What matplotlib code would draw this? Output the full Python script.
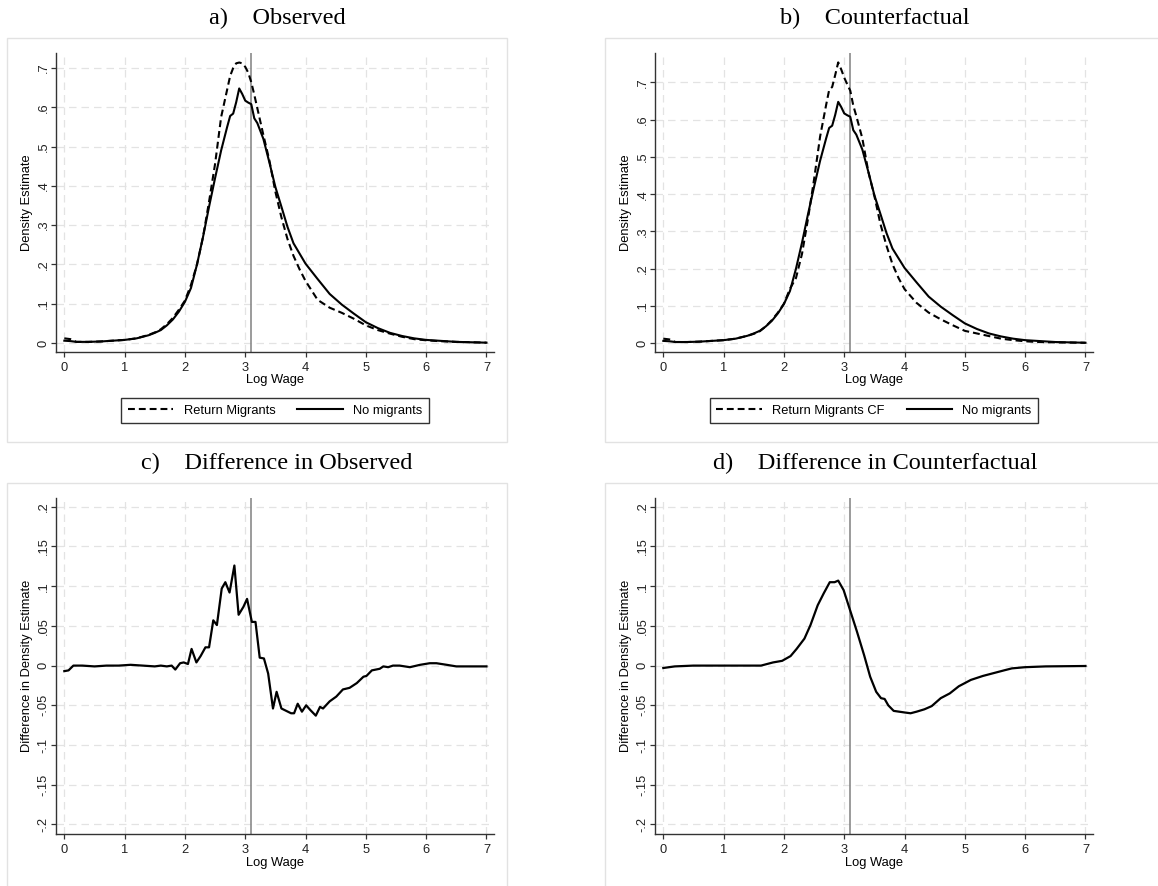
import matplotlib
matplotlib.use("Agg")
import matplotlib.pyplot as plt
from matplotlib.patches import Rectangle
from matplotlib.lines import Line2D

# ---- data ----
log_wage = [0, 0.1, 0.2, 0.4, 0.6, 0.8, 1.0, 1.2, 1.4, 1.5, 1.6, 1.7, 1.8, 1.9, 2.0,
            2.1, 2.2, 2.3, 2.4, 2.5, 2.6, 2.7, 2.75, 2.8, 2.85, 2.9, 2.95, 3.0, 3.05,
            3.1, 3.15, 3.2, 3.3, 3.4, 3.5, 3.6, 3.7, 3.8, 3.9, 4.0, 4.2, 4.4, 4.6,
            4.8, 5.0, 5.2, 5.4, 5.6, 5.8, 6.0, 6.2, 6.5, 7.0]

no_migrants = [0.006, 0.005, 0.003, 0.003, 0.004, 0.006, 0.008, 0.012, 0.020, 0.026,
               0.033, 0.045, 0.060, 0.080, 0.105, 0.140, 0.200, 0.270, 0.347, 0.420,
               0.490, 0.550, 0.578, 0.584, 0.613, 0.648, 0.634, 0.617, 0.612, 0.608,
               0.572, 0.560, 0.520, 0.460, 0.397, 0.347, 0.296, 0.254, 0.228, 0.202,
               0.163, 0.125, 0.098, 0.075, 0.053, 0.038, 0.026, 0.018, 0.012, 0.008,
               0.006, 0.003, 0.001]

return_migrants = [0.012, 0.010, 0.003, 0.003, 0.004, 0.006, 0.008, 0.012, 0.021, 0.027,
                   0.035, 0.048, 0.064, 0.085, 0.108, 0.148, 0.200, 0.270, 0.360, 0.456,
                   0.575, 0.645, 0.680, 0.700, 0.712, 0.714, 0.712, 0.703, 0.688, 0.664,
                   0.632, 0.598, 0.530, 0.465, 0.385, 0.320, 0.265, 0.222, 0.188, 0.158,
                   0.110, 0.090, 0.077, 0.062, 0.045, 0.033, 0.024, 0.016, 0.010, 0.007,
                   0.005, 0.003, 0.001]

return_migrants_cf = [0.012, 0.010, 0.003, 0.003, 0.004, 0.006, 0.008, 0.012, 0.020, 0.025,
                      0.032, 0.045, 0.062, 0.082, 0.106, 0.146, 0.175, 0.240, 0.335, 0.440,
                      0.555, 0.640, 0.680, 0.688, 0.720, 0.754, 0.735, 0.713, 0.695, 0.678,
                      0.638, 0.610, 0.550, 0.460, 0.395, 0.320, 0.262, 0.212, 0.175, 0.145,
                      0.108, 0.082, 0.064, 0.048, 0.033, 0.026, 0.019, 0.012, 0.008, 0.005,
                      0.003, 0.002, 0.001]

diff_obs_x = [0, 0.07, 0.15, 0.3, 0.5, 0.7, 0.9, 1.1, 1.3, 1.5, 1.6, 1.7, 1.78, 1.84, 1.92,
              1.98, 2.05, 2.11, 2.19, 2.26, 2.34, 2.40, 2.47, 2.53, 2.61, 2.67, 2.74, 2.82,
              2.89, 2.97, 3.03, 3.11, 3.17, 3.24, 3.31, 3.38, 3.46, 3.52, 3.60, 3.68, 3.76,
              3.81, 3.87, 3.94, 4.01, 4.08, 4.17, 4.24, 4.29, 4.40, 4.51, 4.62, 4.73, 4.85,
              4.96, 5.01, 5.10, 5.23, 5.29, 5.37, 5.45, 5.56, 5.73, 5.90, 6.06, 6.17, 6.34,
              6.50, 7.0]
diff_obs = [-0.007, -0.006, 0.0, 0.0, -0.001, 0.0, 0.0, 0.001, 0.0, -0.001, 0.0, -0.001,
            0.0, -0.005, 0.003, 0.004, 0.002, 0.021, 0.004, 0.012, 0.023, 0.023, 0.057,
            0.051, 0.097, 0.105, 0.092, 0.126, 0.064, 0.074, 0.084, 0.055, 0.055, 0.010,
            0.009, -0.010, -0.054, -0.033, -0.054, -0.057, -0.060, -0.060, -0.048, -0.058,
            -0.050, -0.056, -0.063, -0.052, -0.054, -0.045, -0.039, -0.030, -0.028, -0.022,
            -0.014, -0.013, -0.006, -0.004, -0.001, -0.002, 0.0, 0.0, -0.002, 0.001, 0.003,
            0.003, 0.001, -0.001, -0.001]

diff_cf_x = [0, 0.19, 0.5, 1.0, 1.3, 1.62, 1.82, 1.97, 2.11, 2.21, 2.34, 2.44, 2.56, 2.66,
             2.76, 2.84, 2.90, 2.99, 3.10, 3.21, 3.33, 3.43, 3.53, 3.61, 3.67, 3.73, 3.82,
             3.91, 4.00, 4.10, 4.20, 4.33, 4.45, 4.60, 4.75, 4.90, 5.10, 5.30, 5.50, 5.65,
             5.78, 6.0, 6.34, 7.0]
diff_cf = [-0.003, -0.001, 0.0, 0.0, 0.0, 0.0, 0.004, 0.006, 0.012, 0.021, 0.034, 0.051,
           0.076, 0.091, 0.105, 0.105, 0.107, 0.095, 0.069, 0.043, 0.013, -0.014, -0.033,
           -0.041, -0.042, -0.050, -0.057, -0.058, -0.059, -0.060, -0.058, -0.055, -0.051,
           -0.041, -0.035, -0.026, -0.018, -0.013, -0.009, -0.006, -0.0035, -0.002, -0.001,
           -0.0005]

density_ticks = [0, 0.1, 0.2, 0.3, 0.4, 0.5, 0.6, 0.7]
density_labels = ['0', '.1', '.2', '.3', '.4', '.5', '.6', '.7']
diff_ticks = [-0.2, -0.15, -0.1, -0.05, 0, 0.05, 0.1, 0.15, 0.2]
diff_labels = ['-.2', '-.15', '-.1', '-.05', '0', '.05', '.1', '.15', '.2']
cutoff = 3.1

W, H = 1158, 886
fig = plt.figure(figsize=(W / 100, H / 100), dpi=100)
plt.rcParams['font.family'] = ['Liberation Sans', 'DejaVu Sans']

FS = 9.3
DASH = (0, (3.3, 1.9))


def px_axes(left, top, right, bottom):
    return fig.add_axes([left / W, 1 - bottom / H, (right - left) / W, (bottom - top) / H])


def frame(left, top, right, bottom):
    fig.add_artist(Rectangle((left / W, 1 - bottom / H), (right - left) / W, (bottom - top) / H,
                             transform=fig.transFigure, facecolor='white',
                             edgecolor='#e2e2e2', lw=1.0, zorder=-5))


def style(ax, ylim, ticks, labels, ylabel):
    ax.set_xlim(-0.138, 7.125)
    ax.set_ylim(*ylim)
    ax.set_xticks(range(8))
    ax.set_yticks(ticks)
    ax.set_yticklabels(labels)
    for lab in ax.get_yticklabels():
        lab.set_rotation(90)
        lab.set_va('center')
    ax.grid(True, color='#e3e3e3', linestyle=(0, (6, 4)), lw=0.9)
    ax.set_axisbelow(True)
    ax.patch.set_alpha(0)
    for s in ['top', 'right']:
        ax.spines[s].set_visible(False)
    for s in ['left', 'bottom']:
        ax.spines[s].set_color('#333333')
        ax.spines[s].set_linewidth(1.0)
    ax.tick_params(direction='out', length=3.6, width=0.9, colors='#333333',
                   labelcolor='#222222', labelsize=FS, pad=1)
    ax.tick_params(axis='x', pad=3.5)
    ax.set_xlabel('Log Wage', fontsize=FS, labelpad=0.5)
    ax.set_ylabel(ylabel, fontsize=FS, labelpad=3)
    ax.axvline(cutoff, color='#808080', lw=1.1, zorder=1)


def legend(ax, dashed_label, cx, cy):
    handles = [Line2D([], [], color='black', lw=1.5, linestyle=DASH),
               Line2D([], [], color='black', lw=1.5)]
    leg = ax.legend(handles, [dashed_label, 'No migrants'], loc='center',
                    bbox_to_anchor=(cx / W, 1 - cy / H), bbox_transform=fig.transFigure,
                    ncol=2, fancybox=False, edgecolor='#333333', framealpha=1,
                    fontsize=FS, handlelength=3.55, columnspacing=1.7,
                    borderpad=0.5, handletextpad=0.78)
    leg.get_frame().set_linewidth(1.0)


titles = [('a)    Observed', 277, 18), ('b)    Counterfactual', 875, 18),
          ('c)    Difference in Observed', 277, 463),
          ('d)    Difference in Counterfactual', 875, 463)]
for text, cx, cy in titles:
    fig.text(cx / W, 1 - cy / H, text, ha='center', va='center',
             fontfamily='Liberation Serif', fontsize=17.5)

frame(7, 38, 507, 442)
frame(605, 38, 1162, 442)
frame(7, 483, 507, 890)
frame(605, 483, 1162, 890)

# a) observed
ax = px_axes(56, 52.7, 494, 351.7)
style(ax, (-0.022, 0.739), density_ticks, density_labels, 'Density Estimate')
ax.plot(log_wage, return_migrants, color='black', lw=1.5, linestyle=DASH)
ax.plot(log_wage, no_migrants, color='black', lw=1.5)
legend(ax, 'Return Migrants', 275, 410.5)

# b) counterfactual
ax = px_axes(655, 52.7, 1093, 351.7)
style(ax, (-0.023, 0.78), density_ticks, density_labels, 'Density Estimate')
ax.plot(log_wage, return_migrants_cf, color='black', lw=1.5, linestyle=DASH)
ax.plot(log_wage, no_migrants, color='black', lw=1.5)
legend(ax, 'Return Migrants CF', 874, 410.5)

# c) difference observed
ax = px_axes(56, 498, 494, 834)
style(ax, (-0.212, 0.211), diff_ticks, diff_labels, 'Difference in Density Estimate')
ax.plot(diff_obs_x, diff_obs, color='black', lw=1.6)

# d) difference counterfactual
ax = px_axes(655, 498, 1093, 834)
style(ax, (-0.212, 0.211), diff_ticks, diff_labels, 'Difference in Density Estimate')
ax.plot(diff_cf_x, diff_cf, color='black', lw=1.6)

fig.savefig('out.png', dpi=100, facecolor='white')
